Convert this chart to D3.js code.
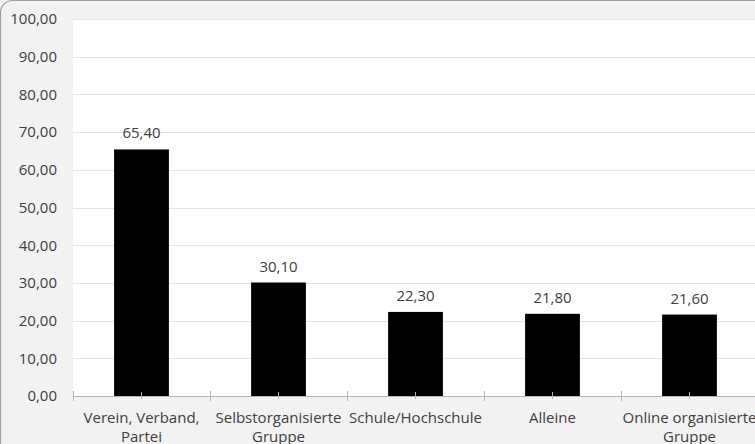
<!DOCTYPE html>
<html>
<head>
<meta charset="utf-8">
<script src="https://cdn.jsdelivr.net/npm/d3@7"></script>
<style>
  html, body { margin: 0; padding: 0; background: #f2f2f2; overflow: hidden; }
  svg { display: block; font-family: "Open Sans", "Noto Sans", sans-serif; }
</style>
</head>
<body>
<svg id="chart" width="755" height="444"></svg>
<script>
// Categories (each label split into its display lines) and values
const categories = [
  ["Verein, Verband,", "Partei"],
  ["Selbstorganisierte", "Gruppe"],
  ["Schule/Hochschule"],
  ["Alleine"],
  ["Online organisierte", "Gruppe"]
];
const values = [65.40, 30.10, 22.30, 21.80, 21.60];
const yTicks = [0, 10, 20, 30, 40, 50, 60, 70, 80, 90, 100];

const fmt = v => d3.format(".2f")(v).replace(".", ",");
const FONT_SIZE = "15px";
const TEXT_COLOR = "#404040";
const AXIS_COLOR = "#b4b4b4";

const svg = d3.select("#chart");
const plot = { left: 73, top: 19, right: 758, bottom: 396 };

// Outer frame with rounded corners
svg.append("rect")
  .attr("x", 0.5).attr("y", 0.5)
  .attr("width", 820).attr("height", 520)
  .attr("rx", 12).attr("ry", 12)
  .attr("fill", "#f2f2f2")
  .attr("stroke", "#a0a0a0").attr("stroke-width", 1.2);

const x = d3.scaleBand()
  .domain(d3.range(categories.length))
  .range([plot.left, plot.right])
  .paddingInner(0.6).paddingOuter(0.3);

const y = d3.scaleLinear().domain([0, 100]).range([plot.bottom, plot.top]);

// Plot area background
svg.append("rect")
  .attr("x", plot.left).attr("y", plot.top)
  .attr("width", plot.right - plot.left).attr("height", plot.bottom - plot.top)
  .attr("fill", "#ffffff");

// Horizontal gridlines
svg.append("g")
  .selectAll("line")
  .data(yTicks.filter(t => t > 0))
  .join("line")
  .attr("x1", plot.left).attr("x2", plot.right)
  .attr("y1", d => Math.round(y(d)) + 0.5).attr("y2", d => Math.round(y(d)) + 0.5)
  .attr("stroke", "#e3e3e3").attr("stroke-width", 1);

// Y axis labels
const yAxis = d3.axisLeft(y).tickValues(yTicks).tickFormat(fmt).tickSize(0).tickPadding(16);
svg.append("g")
  .attr("transform", `translate(${plot.left},0)`)
  .call(yAxis)
  .call(g => g.select(".domain").remove())
  .selectAll("text")
  .attr("fill", TEXT_COLOR)
  .style("font-size", FONT_SIZE)
  .style("font-family", "'Open Sans', 'Noto Sans', sans-serif");

// Bars
svg.append("g")
  .selectAll("rect")
  .data(values)
  .join("rect")
  .attr("x", (d, i) => x(i))
  .attr("y", d => y(d))
  .attr("width", x.bandwidth())
  .attr("height", d => y(0) - y(d))
  .attr("fill", "#000000");

// Value labels
svg.append("g")
  .selectAll("text")
  .data(values)
  .join("text")
  .attr("x", (d, i) => x(i) + x.bandwidth() / 2)
  .attr("y", d => y(d) - 11)
  .attr("text-anchor", "middle")
  .attr("fill", TEXT_COLOR)
  .style("font-size", FONT_SIZE)
  .text(d => fmt(d));

// X axis baseline, category boundary ticks and centre ticks (drawn over the bars)
const bandStart = i => plot.left + i * (plot.right - plot.left) / categories.length;
const axisG = svg.append("g").attr("stroke", AXIS_COLOR).attr("stroke-width", 1);
axisG.append("line")
  .attr("x1", plot.left).attr("x2", plot.right)
  .attr("y1", plot.bottom + 0.5).attr("y2", plot.bottom + 0.5);
axisG.selectAll("line.bound")
  .data(d3.range(categories.length + 1))
  .join("line")
  .attr("class", "bound")
  .attr("x1", i => Math.round(bandStart(i)) + 0.5)
  .attr("x2", i => Math.round(bandStart(i)) + 0.5)
  .attr("y1", plot.bottom - 5).attr("y2", plot.bottom + 5);
axisG.selectAll("line.mid")
  .data(d3.range(categories.length))
  .join("line")
  .attr("class", "mid")
  .attr("x1", i => Math.round(x(i) + x.bandwidth() / 2) + 0.5)
  .attr("x2", i => Math.round(x(i) + x.bandwidth() / 2) + 0.5)
  .attr("y1", plot.bottom - 4).attr("y2", plot.bottom + 3);

// Category labels (second lines run into the lower edge of the frame)
const catG = svg.append("g")
  .selectAll("text")
  .data(categories)
  .join("text")
  .attr("x", (d, i) => x(i) + x.bandwidth() / 2)
  .attr("y", 423)
  .attr("text-anchor", "middle")
  .attr("fill", TEXT_COLOR)
  .style("font-size", FONT_SIZE);
catG.selectAll("tspan")
  .data(d => d)
  .join("tspan")
  .attr("x", function () { return d3.select(this.parentNode).attr("x"); })
  .attr("dy", (d, j) => j === 0 ? 0 : 19)
  .text(d => d);
</script>
</body>
</html>
